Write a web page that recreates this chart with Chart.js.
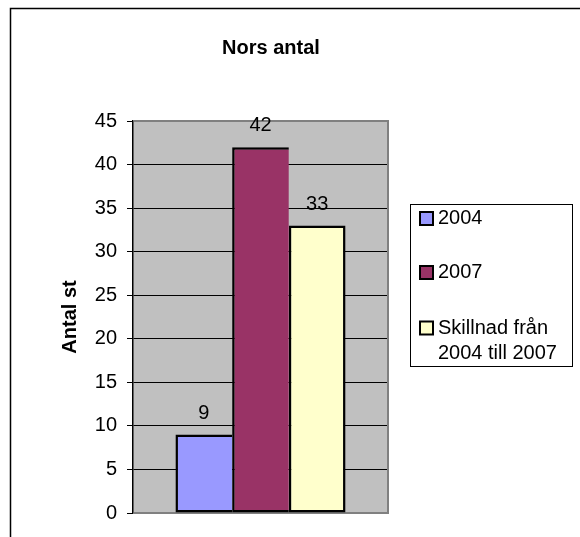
<!DOCTYPE html>
<html>
<head>
<meta charset="utf-8">
<script src="https://cdn.jsdelivr.net/npm/chart.js@4/dist/chart.umd.min.js"></script>
<style>
html,body{margin:0;padding:0;background:#fff;}
canvas{display:block;}
</style>
</head>
<body>
<canvas id="c" width="580" height="537"></canvas>
<script>
// ---- data ----
const chartTitle = 'Nors antal';
const yAxisTitle = 'Antal st';
const categories = [''];
const seriesLabels = ['2004', '2007', 'Skillnad från\n2004 till 2007'];
const seriesValues = [9, 42, 33];
const seriesColors = ['#9999FF', '#993366', '#FFFFCC'];
const yMin = 0, yMax = 45, yStep = 5;

const FONT = "'Liberation Sans', Arial, sans-serif";

const datasets = seriesLabels.map((lab, i) => ({
  label: lab,
  data: [seriesValues[i]],
  backgroundColor: seriesColors[i],
  borderColor: '#000',
  borderWidth: i === seriesLabels.length - 1 ? 2.5 : {top: 2.5, left: 2.5, bottom: 2.5, right: 0},
  borderSkipped: false,
  categoryPercentage: 0.667,
  barPercentage: 1.0
}));

const decorPlugin = {
  id: 'decor',
  beforeDraw(chart) {
    const ctx = chart.ctx, a = chart.chartArea;
    ctx.save();
    ctx.fillStyle = '#fff';
    ctx.fillRect(0, 0, chart.width, chart.height);
    // outer frame
    ctx.strokeStyle = '#000';
    ctx.lineWidth = 1.5;
    ctx.beginPath();
    ctx.moveTo(10.5, chart.height + 2);
    ctx.lineTo(10.5, 8.5);
    ctx.lineTo(chart.width + 2, 8.5);
    ctx.stroke();
    // plot background
    ctx.fillStyle = '#C0C0C0';
    ctx.fillRect(a.left, a.top, a.right - a.left, a.bottom - a.top);
    // title
    ctx.fillStyle = '#000';
    ctx.font = 'bold 20px ' + FONT;
    ctx.textAlign = 'center';
    ctx.textBaseline = 'middle';
    ctx.fillText(chartTitle, 271, 48);
    ctx.restore();
  },
  beforeDatasetsDraw(chart) {
    const ctx = chart.ctx, a = chart.chartArea;
    ctx.save();
    ctx.strokeStyle = '#808080';
    ctx.lineWidth = 2;
    ctx.beginPath();
    ctx.moveTo(a.left + 1, a.top);
    ctx.lineTo(a.right, a.top);
    ctx.lineTo(a.right, a.bottom);
    ctx.lineTo(a.left + 1, a.bottom);
    ctx.stroke();
    ctx.restore();
  },
  afterDatasetsDraw(chart) {
    const ctx = chart.ctx;
    ctx.save();
    ctx.fillStyle = '#000';
    ctx.font = '20px ' + FONT;
    ctx.textAlign = 'center';
    ctx.textBaseline = 'alphabetic';
    chart.data.datasets.forEach((ds, i) => {
      const meta = chart.getDatasetMeta(i);
      meta.data.forEach((bar, j) => {
        ctx.fillText(String(ds.data[j]), bar.x, bar.y - 16);
      });
    });
    // legend
    const lx = 410.5, ly = 204.5, lw = 162, lh = 162;
    ctx.strokeStyle = '#000';
    ctx.lineWidth = 1;
    ctx.strokeRect(lx, ly, lw, lh);
    const itemY = [218.5, 272.5, 328];
    ctx.textAlign = 'left';
    ctx.textBaseline = 'middle';
    chart.data.datasets.forEach((ds, i) => {
      const y = itemY[i];
      ctx.fillStyle = ds.backgroundColor;
      ctx.fillRect(420, y - 6.5, 13, 13);
      ctx.lineWidth = 2;
      ctx.strokeStyle = '#000';
      ctx.strokeRect(420, y - 6.5, 13, 13);
      ctx.fillStyle = '#000';
      ds.label.split('\n').forEach((line, k) => {
        ctx.fillText(line, 438, y + k * 25);
      });
    });
    ctx.restore();
  }
};

new Chart(document.getElementById('c'), {
  type: 'bar',
  data: { labels: categories, datasets },
  options: {
    responsive: false,
    animation: false,
    devicePixelRatio: 1,
    layout: { padding: { left: 0, top: 121, right: 192, bottom: 24 } },
    plugins: {
      legend: { display: false },
      title: { display: false },
      tooltip: { enabled: false }
    },
    scales: {
      x: { display: false },
      y: {
        min: yMin, max: yMax,
        afterFit(scale) { scale.width = 133; },
        ticks: {
          stepSize: yStep,
          padding: 10,
          color: '#000',
          font: { family: FONT, size: 20 }
        },
        grid: {
          color: (c) => (c.tick && (c.tick.value === yMax || c.tick.value === yMin)) ? 'rgba(0,0,0,0)' : '#000',
          lineWidth: 1,
          tickColor: '#000',
          tickLength: 6,
          tickWidth: 1
        },
        border: { display: true, color: '#000', width: 1.5 },
        title: {
          display: true,
          text: yAxisTitle,
          color: '#000',
          font: { family: FONT, size: 20, weight: 'bold' },
          padding: { top: 58, bottom: 0 }
        }
      }
    }
  },
  plugins: [decorPlugin]
});
</script>
</body>
</html>
